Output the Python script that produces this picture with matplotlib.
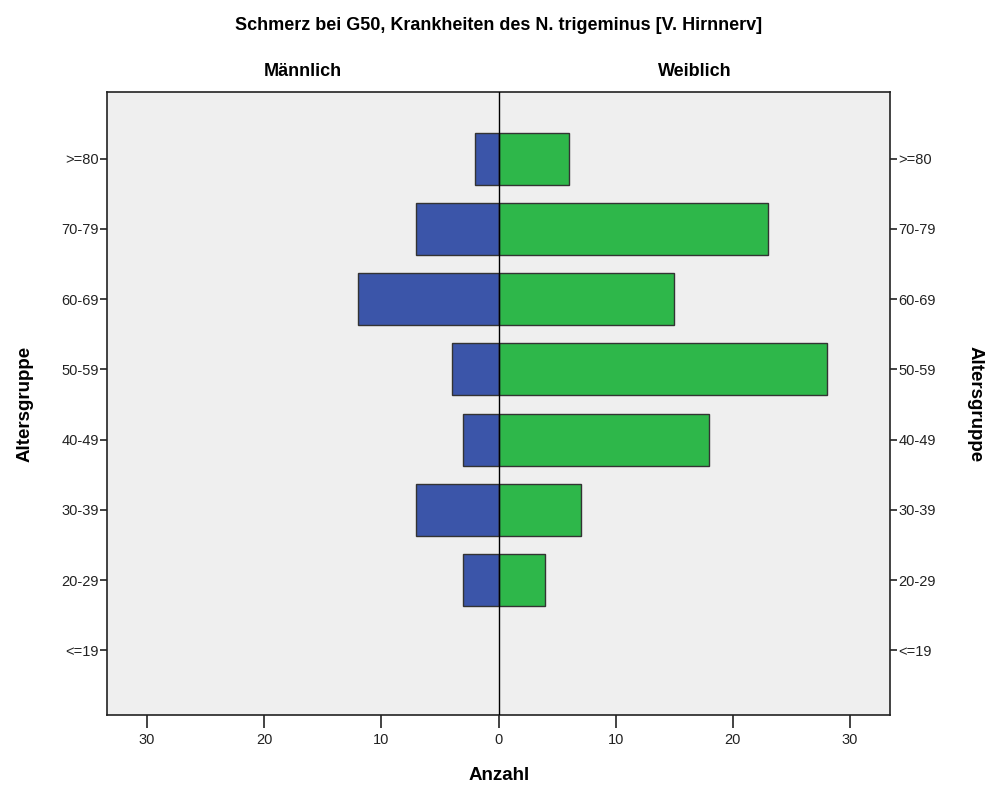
import numpy as np
import matplotlib
matplotlib.use('Agg')
import matplotlib.pyplot as plt

matplotlib.rcParams['font.family'] = ['Liberation Sans', 'DejaVu Sans']

# ── Daten ──
altersgruppen = ['<=19', '20-29', '30-39', '40-49', '50-59', '60-69', '70-79', '>=80']
maennlich = [0, 3, 7, 3, 4, 12, 7, 2]
weiblich = [0, 4, 7, 18, 28, 15, 23, 6]
x_ticks = [-30, -20, -10, 0, 10, 20, 30]

y = np.arange(len(altersgruppen))

fig = plt.figure(figsize=(9.86, 7.89), dpi=100)
ax = fig.add_axes([107 / 986, 1 - 715 / 789, (890 - 107) / 986, (715 - 92) / 789])
ax.set_facecolor('#efefef')

# Balken mit Wert 0 ohne Rand zeichnen
lw_m = [0 if v == 0 else 1 for v in maennlich]
lw_w = [0 if v == 0 else 1 for v in weiblich]
ax.barh(y, [-v for v in maennlich], height=0.74, color='#3b55a9', edgecolor='#333333', linewidth=lw_m, zorder=2)
ax.barh(y, weiblich, height=0.74, color='#2eb74a', edgecolor='#333333', linewidth=lw_w, zorder=2)
ax.axvline(0, color='black', linewidth=1, zorder=3)

ax.set_xlim(-33.4, 33.4)
ax.set_ylim(-0.92, 7.95)
ax.set_xticks(x_ticks)
ax.set_xticklabels([str(abs(t)) for t in x_ticks], fontsize=10.5)
ax.set_yticks(y)
ax.set_yticklabels(altersgruppen, fontsize=10.5)
ax.tick_params(axis='y', left=True, right=True, labelleft=True, labelright=True,
               length=5, width=1.2, pad=1, colors='#222222')
ax.tick_params(axis='x', length=9, width=1.2, pad=4, colors='#222222')
for s in ax.spines.values():
    s.set_linewidth(1.2)
    s.set_color('#222222')

fig.text(499 / 986, 1 - 25 / 789, 'Schmerz bei G50, Krankheiten des N. trigeminus [V. Hirnnerv]',
         ha='center', va='center', fontsize=13, fontweight='bold')
fig.text(303 / 986, 1 - 72 / 789, 'Männlich', ha='center', va='center', fontsize=13, fontweight='bold')
fig.text(695 / 986, 1 - 72 / 789, 'Weiblich', ha='center', va='center', fontsize=13, fontweight='bold')
fig.text(499 / 986, 1 - 776 / 789, 'Anzahl', ha='center', va='center', fontsize=13.5, fontweight='bold')
fig.text(25 / 986, 1 - 404 / 789, 'Altersgruppe', ha='center', va='center', rotation=90,
         fontsize=13.5, fontweight='bold')
fig.text(975 / 986, 1 - 404 / 789, 'Altersgruppe', ha='center', va='center', rotation=270,
         fontsize=13.5, fontweight='bold')

fig.savefig('out.png', dpi=100)
